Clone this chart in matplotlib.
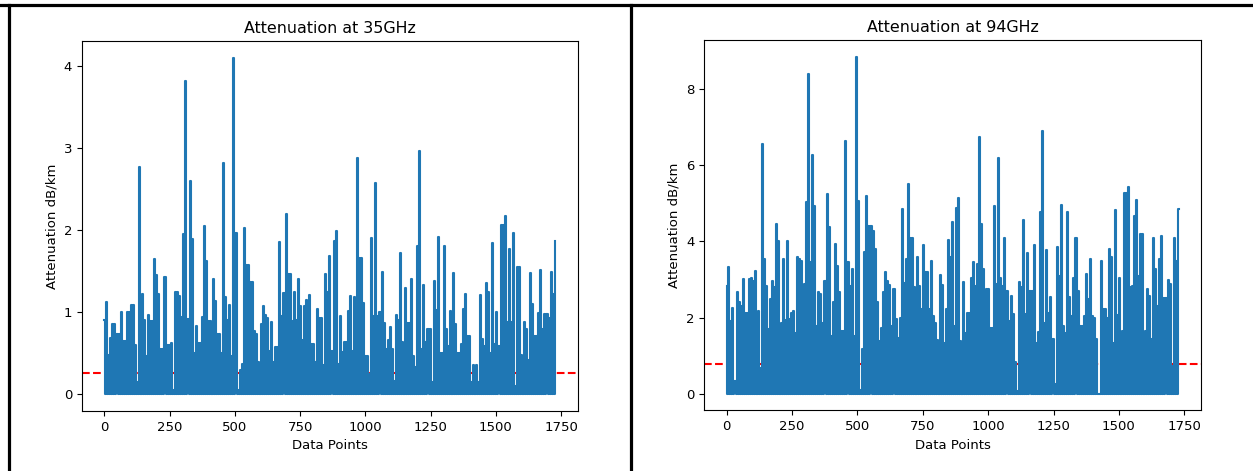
import numpy as np
import matplotlib
matplotlib.use("Agg")
import matplotlib.pyplot as plt
from matplotlib.lines import Line2D

# peak attenuation per group of 8 samples (dB/km), samples between peaks are 0
att35 = [
    0.91, 1.12, 0.48, 0.69, 0.85, 0.85, 0.73, 0.73,
    1.0, 0.65, 0.65, 1.0, 1.0, 1.09, 1.09, 0.6,
    0.15, 2.77, 1.22, 0.91, 0.47, 0.96, 0.89, 0.89,
    1.65, 1.45, 1.22, 0.55, 0.55, 1.43, 0.6, 0.6,
    0.62, 0.05, 1.24, 1.24, 1.2, 0.94, 1.95, 3.82,
    0.92, 2.6, 1.89, 0.5, 0.83, 0.62, 0.62, 0.94,
    2.05, 1.62, 0.89, 0.89, 1.4, 1.14, 0.73, 0.73,
    0.5, 2.82, 1.18, 0.91, 1.09, 0.47, 4.1, 1.97,
    0.05, 0.3, 0.37, 2.03, 1.58, 1.58, 1.37, 1.37,
    0.77, 0.73, 0.39, 0.85, 1.07, 0.97, 0.93, 0.53,
    0.88, 0.39, 0.57, 0.57, 1.85, 0.95, 1.23, 2.2,
    1.47, 1.47, 0.89, 1.24, 0.91, 1.4, 1.07, 0.66,
    1.07, 1.15, 1.21, 0.61, 0.61, 0.39, 1.04, 0.93,
    0.93, 0.35, 1.46, 1.24, 1.68, 0.53, 1.87, 1.99,
    0.37, 0.95, 0.51, 0.63, 0.63, 1.01, 1.2, 0.53,
    1.18, 2.88, 1.66, 1.66, 1.11, 0.47, 0.47, 0.24,
    1.9, 0.95, 2.58, 0.95, 1.0, 1.49, 0.87, 0.55,
    0.66, 0.82, 0.55, 0.16, 0.97, 0.91, 1.72, 0.64,
    1.29, 0.87, 0.87, 1.4, 0.47, 0.33, 1.8, 2.96,
    0.55, 1.33, 0.63, 0.79, 0.79, 0.15, 1.38, 1.03,
    1.92, 0.5, 0.5, 1.8, 0.79, 0.59, 1.01, 1.48,
    0.86, 0.5, 0.5, 0.61, 1.04, 1.22, 0.71, 0.71,
    0.15, 0.36, 0.36, 0.15, 1.21, 0.67, 0.59, 1.35,
    1.25, 0.5, 1.84, 0.61, 1.0, 0.59, 2.06, 2.06,
    2.17, 0.88, 1.77, 0.88, 1.97, 0.1, 1.55, 1.55,
    0.48, 0.88, 0.79, 0.42, 1.48, 1.1, 0.71, 0.71,
    0.99, 1.51, 0.79, 0.98, 0.98, 0.93, 1.49, 1.22,
    1.87,
]

att94 = [
    2.83, 3.32, 1.9, 2.26, 0.33, 2.66, 2.4, 2.3,
    3.0, 2.13, 2.13, 3.02, 3.05, 2.96, 3.22, 2.18,
    0.68, 6.55, 3.53, 2.83, 1.69, 2.49, 2.96, 2.8,
    4.46, 4.02, 1.86, 3.53, 1.94, 4.02, 1.96, 2.13,
    2.18, 1.6, 3.58, 3.53, 3.49, 2.88, 5.04, 8.4,
    3.45, 6.28, 4.93, 1.78, 2.66, 2.62, 1.86, 2.96,
    5.24, 4.37, 1.51, 2.4, 3.93, 3.36, 2.66, 1.65,
    1.65, 6.65, 3.45, 2.83, 3.27, 1.51, 8.85, 5.07,
    0.1, 1.18, 3.71, 5.2, 4.41, 4.41, 4.28, 3.81,
    2.4, 1.38, 1.73, 2.66, 3.2, 2.96, 2.85, 1.78,
    2.75, 1.96, 1.47, 1.98, 4.85, 2.9, 3.55, 5.5,
    4.08, 4.08, 2.8, 3.58, 2.83, 2.22, 3.91, 3.19,
    3.19, 2.22, 3.49, 2.05, 1.86, 1.4, 3.11, 2.85,
    1.34, 2.22, 4.04, 3.58, 4.5, 1.78, 4.87, 5.13,
    1.38, 2.93, 1.6, 2.13, 2.13, 3.05, 3.47, 2.83,
    3.4, 6.75, 4.46, 3.27, 2.75, 2.75, 1.73, 1.73,
    4.93, 2.88, 6.2, 3.05, 2.83, 4.08, 2.7, 1.91,
    2.57, 2.08, 0.82, 0.07, 2.93, 2.8, 4.57, 2.08,
    3.69, 2.7, 2.7, 3.9, 1.34, 1.62, 4.76, 6.9,
    1.86, 3.78, 2.13, 2.53, 1.43, 0.25, 3.84, 3.1,
    4.95, 1.78, 1.6, 4.76, 2.53, 2.05, 3.05, 4.08,
    2.7, 1.78, 1.78, 2.05, 3.14, 2.49, 3.55, 2.05,
    2.0, 1.43, 0.0, 3.49, 2.22, 2.22, 2.0, 3.8,
    3.58, 1.34, 4.83, 2.07, 3.05, 1.65, 5.26, 5.26,
    5.43, 2.8, 2.83, 4.68, 5.09, 3.1, 4.2, 4.2,
    1.65, 2.75, 2.57, 1.43, 4.08, 3.27, 2.31, 3.55,
    4.15, 2.5, 2.5, 2.99, 2.88, 0.73, 4.1, 3.49,
    4.85,
]

# mean attenuation for each frequency
mean35 = 0.26
mean94 = 0.79

titles = ["Attenuation at 35GHz", "Attenuation at 94GHz"]

plt.rcParams["font.size"] = 9.5


def to_series(peaks):
    # every peak followed by a zero sample
    vals = np.zeros(2 * len(peaks) - 1)
    vals[::2] = peaks
    pts = np.arange(len(vals)) * 4
    return pts, vals


fig = plt.figure(figsize=(12.53, 4.71), dpi=100)
ax1 = fig.add_axes([0.0654, 0.1274, 0.3958, 0.7856])
ax2 = fig.add_axes([0.5619, 0.1285, 0.3967, 0.7866])

for ax, peaks, mean, title in zip([ax1, ax2], [att35, att94], [mean35, mean94], titles):
    pts, vals = to_series(peaks)
    ax.axhline(mean, color="r", linestyle="--")
    ax.plot(pts, vals, drawstyle="steps-mid")
    ax.set_title(title, fontsize=11.4)
    ax.set_xlabel("Data Points")
    ax.set_ylabel("Attenuation dB/km")

# frame lines around the two panels
lw = 2.3
fig.add_artist(Line2D([0, 1], [0.9904, 0.9904], transform=fig.transFigure, color="black", lw=lw))
fig.add_artist(Line2D([0.0072, 0.0072], [0, 0.9904], transform=fig.transFigure, color="black", lw=lw))
fig.add_artist(Line2D([0.5036, 0.5036], [0, 0.9904], transform=fig.transFigure, color="black", lw=lw))

fig.savefig("out.png", dpi=100)
